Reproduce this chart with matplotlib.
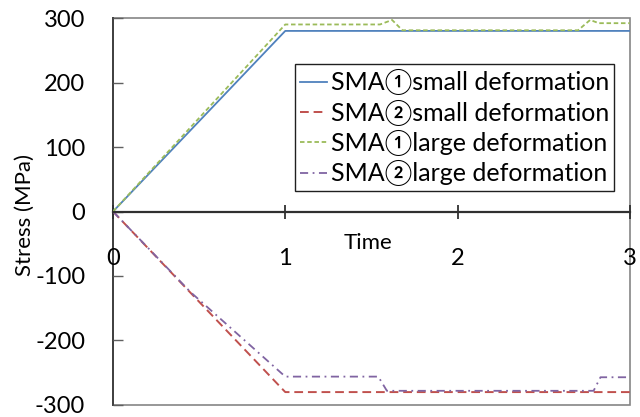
import matplotlib
matplotlib.use("Agg")
import matplotlib.pyplot as plt
from matplotlib.patches import Rectangle

plt.rcParams['font.family'] = ['Lato', 'DejaVu Sans', 'Noto Sans CJK JP']
plt.rcParams['axes.unicode_minus'] = False

# Stress histories (time, MPa)
t_sma1_small = [0, 1, 3]
s_sma1_small = [0, 280, 280]

t_sma2_small = [0, 1, 3]
s_sma2_small = [0, -280, -280]

t_sma1_large = [0, 1, 1.55, 1.62, 1.68, 2.70, 2.77, 2.82, 3]
s_sma1_large = [0, 290, 290, 297, 281, 281, 297, 292, 292]

t_sma2_large = [0, 0.45, 1, 1.54, 1.59, 2.79, 2.83, 3]
s_sma2_large = [0, -125, -256, -256, -278, -278, -257, -257]

labels = ["SMA\u2460small deformation", "SMA\u2461small deformation",
          "SMA\u2460large deformation", "SMA\u2461large deformation"]
x_ticks = [0, 1, 2, 3]
y_ticks = [-300, -200, -100, 0, 100, 200, 300]

fig = plt.figure(figsize=(6.4, 4.17), dpi=100)
ax = fig.add_axes([0.1766, 0.0288, 0.8074, 0.928])

ax.plot(t_sma1_small, s_sma1_small, color='#4F81BD', lw=1.3, label=labels[0])
ax.plot(t_sma2_small, s_sma2_small, color='#C0504D', lw=1.4,
        dashes=(4.5, 2.5), label=labels[1])
ax.plot(t_sma1_large, s_sma1_large, color='#9BBB59', lw=1.3,
        dashes=(2.5, 1.5), label=labels[2])
ax.plot(t_sma2_large, s_sma2_large, color='#8064A2', lw=1.3,
        dashes=(4.5, 2.5, 1, 2.5), label=labels[3])

ax.set_xlim(0, 3)
ax.set_ylim(-300, 300)
ax.set_xticks(x_ticks)
ax.set_yticks(y_ticks)

# Frame around the plot area; x axis runs through zero
for side in ('top', 'right', 'left'):
    ax.spines[side].set_visible(False)
ax.spines['bottom'].set_position(('data', 0))
ax.spines['bottom'].set_color('#303030')
ax.spines['bottom'].set_linewidth(1.6)
ax.add_patch(Rectangle((0, 0), 1, 1, transform=ax.transAxes, fill=False,
                       edgecolor='#858585', lw=1.2, clip_on=False, zorder=0.5))
ax.plot([0, 0], [0, 1], transform=ax.transAxes, color='#404040', lw=1.4,
        clip_on=False, zorder=0.6)

ax.tick_params(axis='x', direction='inout', length=10, width=1.3,
               color='#303030', pad=21, labelsize=17)
ax.tick_params(axis='y', direction='in', length=7, width=1.0,
               color='#606060', pad=20, labelsize=17)

ax.set_xlabel('Time', fontsize=16)
ax.xaxis.set_label_coords(0.493, 0.445)
ax.set_ylabel('Stress (MPa)', fontsize=16)
ax.yaxis.set_label_coords(-0.151, 0.49)

leg = ax.legend(loc='upper left', bbox_to_anchor=(0.352, 0.88), fontsize=18,
                frameon=True, fancybox=False, framealpha=1, edgecolor='#202020',
                handlelength=1.1, handletextpad=0.15, borderpad=0.2,
                labelspacing=0.17, borderaxespad=0)
leg.get_frame().set_linewidth(1.0)

fig.savefig('out.png', dpi=100)
